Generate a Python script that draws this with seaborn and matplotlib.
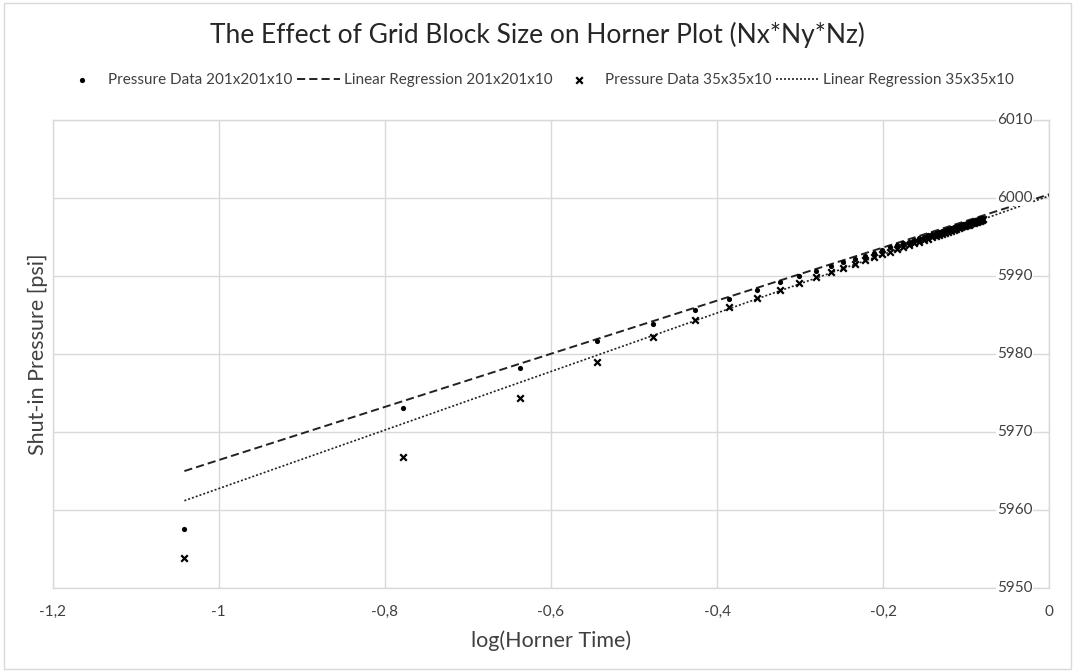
import matplotlib
matplotlib.use("Agg")
import matplotlib.pyplot as plt
import matplotlib.transforms as mtransforms
import seaborn as sns
import pandas as pd
from matplotlib.ticker import FuncFormatter, MultipleLocator
from matplotlib.patches import Rectangle

# log(Horner time) for each shut-in step
log_horner = [
    -1.0414, -0.7782, -0.6368, -0.5441, -0.4771, -0.4260, -0.3853, -0.3522, -0.3245, -0.3010,
    -0.2808, -0.2632, -0.2478, -0.2341, -0.2218, -0.2109, -0.2009, -0.1919, -0.1836, -0.1761,
    -0.1691, -0.1627, -0.1568, -0.1513, -0.1461, -0.1413, -0.1368, -0.1326, -0.1287, -0.1249,
    -0.1214, -0.1181, -0.1150, -0.1120, -0.1091, -0.1065, -0.1039, -0.1015, -0.0991, -0.0969,
    -0.0948, -0.0928, -0.0908, -0.0890, -0.0872, -0.0854, -0.0838, -0.0822, -0.0807, -0.0792,
]

p_201 = [
    5957.6, 5973.1, 5978.2, 5981.7, 5983.9, 5985.7, 5987.1, 5988.2, 5989.2, 5990.0,
    5990.65, 5991.25, 5991.8, 5992.25, 5992.65, 5993.0, 5993.35, 5993.7, 5993.95, 5994.2,
    5994.45, 5994.65, 5994.85, 5995.05, 5995.25, 5995.4, 5995.55, 5995.7, 5995.8, 5995.95,
    5996.05, 5996.2, 5996.3, 5996.4, 5996.5, 5996.6, 5996.65, 5996.75, 5996.85, 5996.9,
    5997.0, 5997.05, 5997.1, 5997.2, 5997.25, 5997.3, 5997.35, 5997.4, 5997.45, 5997.5,
]

p_35 = [
    5953.85, 5966.8, 5974.4, 5979.0, 5982.2, 5984.4, 5986.0, 5987.24, 5988.26, 5989.12,
    5989.87, 5990.51, 5991.08, 5991.59, 5992.04, 5992.44, 5992.81, 5993.14, 5993.44, 5993.72,
    5993.98, 5994.21, 5994.43, 5994.63, 5994.82, 5995.0, 5995.17, 5995.32, 5995.46, 5995.6,
    5995.73, 5995.85, 5995.97, 5996.08, 5996.19, 5996.28, 5996.38, 5996.46, 5996.55, 5996.63,
    5996.71, 5996.78, 5996.86, 5996.92, 5996.99, 5997.06, 5997.12, 5997.18, 5997.23, 5997.29,
]

# trendline end points (forecast forward to 0)
reg_x = [-1.0414, 0.0]
reg_201 = [5965.0, 6000.5]
reg_35 = [5961.2, 6000.3]

y_ticks = [5950, 5960, 5970, 5980, 5990, 6000, 6010]

df = pd.DataFrame({"x": log_horner, "p201": p_201, "p35": p_35})
reg = pd.DataFrame({"x": reg_x, "r201": reg_201, "r35": reg_35})

sns.set_style("white")
plt.rcParams["font.family"] = ["Lato", "DejaVu Sans"]

grey = "#d9d9d9"
text_col = "#404040"

fig, ax = plt.subplots(figsize=(10.75, 6.72), dpi=100)
fig.subplots_adjust(left=0.049, right=0.976, top=0.821, bottom=0.125)

sns.scatterplot(data=df, x="x", y="p201", ax=ax, marker="o", s=14, color="black",
                edgecolor="black", linewidth=0, label="Pressure Data 201x201x10", zorder=4)
sns.lineplot(data=reg, x="x", y="r201", ax=ax, color="#222222", linewidth=1.4,
             label="Linear Regression 201x201x10", zorder=3)
ax.lines[-1].set_dashes((4.2, 2.1))
sns.scatterplot(data=df, x="x", y="p35", ax=ax, marker="x", s=22, color="black",
                linewidth=1.6, label="Pressure Data 35x35x10", zorder=4)
sns.lineplot(data=reg, x="x", y="r35", ax=ax, color="#222222", linewidth=1.2,
             label="Linear Regression 35x35x10", zorder=3)
ax.lines[-1].set_dashes((1.2, 1.2))

ax.set_xlim(-1.2, 0)
ax.set_ylim(5950, 6010)
ax.xaxis.set_major_locator(MultipleLocator(0.2))
ax.set_yticks(y_ticks)
ax.xaxis.set_major_formatter(FuncFormatter(lambda v, p: f"{round(v, 1):g}".replace(".", ",")))
ax.grid(True, color=grey, linewidth=1)
for s in ax.spines.values():
    s.set_color(grey)
    s.set_linewidth(1)

ax.tick_params(axis="y", length=0, labelleft=False, labelright=False)
ax.tick_params(axis="x", length=0, pad=12, labelsize=11, labelcolor=text_col)

# y labels sit inside the plot, just left of the right-hand axis, on white
shift = mtransforms.ScaledTranslation(-0.17, 0, fig.dpi_scale_trans)
lab_trans = mtransforms.blended_transform_factory(ax.transAxes + shift, ax.transData)
for v in y_ticks:
    ax.text(1, v, f"{v}", transform=lab_trans, ha="right", va="center", fontsize=11,
            color=text_col, zorder=6, clip_on=False,
            bbox=dict(facecolor="white", edgecolor="none", pad=0.5))

ax.set_xlabel("log(Horner Time)", fontsize=15.5, color=text_col)
ax.set_ylabel("Shut-in Pressure [psi]", fontsize=15.5, color=text_col)
ax.xaxis.set_label_coords(0.5, -0.09)
ax.yaxis.set_label_coords(-0.005, 0.5)

fig.suptitle("The Effect of Grid Block Size on Horner Plot (Nx*Ny*Nz)",
             fontsize=19, color="#262626", y=0.948, va="center")

ax.legend(loc="center", bbox_to_anchor=(0.5, 0.881), bbox_transform=fig.transFigure,
          ncol=4, frameon=False, fontsize=11, handlelength=2.8, handletextpad=0.3,
          columnspacing=0.3, labelcolor=text_col)

fig.patches.append(Rectangle((0.004, 0.004), 0.992, 0.992, transform=fig.transFigure,
                             fill=False, edgecolor=grey, linewidth=1))

fig.savefig("out.png", dpi=100)
